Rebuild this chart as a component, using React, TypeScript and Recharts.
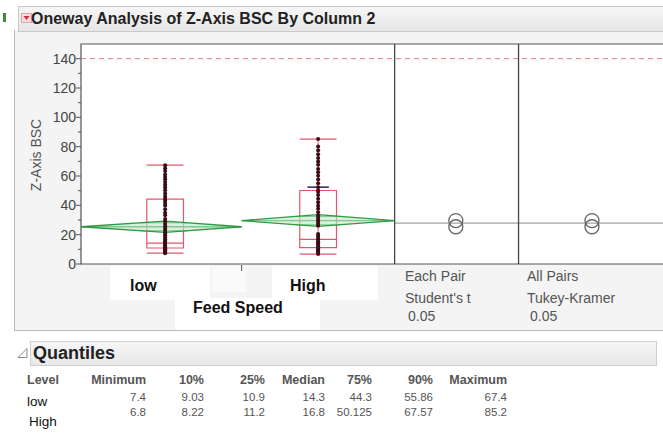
import React from "react";
import { ComposedChart, XAxis, YAxis, Scatter, ReferenceLine, ReferenceArea, CartesianGrid } from "recharts";

// groups of Feed Speed, positioned on a numeric x scale (1 = low, 2 = High)
const groups = ["low", "High"];
const groupPos = [1, 2];
const groupLeft = [0.45, 1.5];
const groupRight = [1.5, 2.5];

// quantiles
const minimum = [7.4, 6.8];
const p10 = [9.03, 8.22];
const q1 = [10.9, 11.2];
const median = [14.3, 16.8];
const q3 = [44.3, 50.125];
const p90 = [55.86, 67.57];
const maximum = [67.4, 85.2];

// means diamonds (mean and 95% CI)
const means = [25.4, 29.6];
const ciLow = [21.6, 25.6];
const ciHigh = [29.2, 33.6];
const sdUpper = [null, 52.4];
const grandMean = 27.9;
const specLimit = 140;

const lowPoints = [7.4, 7.9, 8.4, 9.0, 9.4, 9.9, 10.5, 10.9, 11.3, 11.8, 12.4, 13.0, 13.6, 14.3, 15.1, 15.8, 16.9, 18.2, 19.6, 21.0, 22.7, 24.1, 25.8, 27.3, 28.9, 30.6, 33.2, 35.0, 37.4, 39.9, 41.6, 43.2, 44.3, 46.1, 48.0, 50.3, 52.2, 54.0, 55.9, 57.8, 59.3, 61.0, 63.4, 65.2, 67.4];
const highPoints = [6.8, 7.5, 8.2, 9.1, 9.8, 10.6, 11.2, 12.0, 12.9, 13.8, 14.6, 15.5, 16.8, 17.9, 19.3, 20.5, 26.0, 27.4, 28.8, 30.1, 31.5, 33.0, 35.2, 37.6, 39.8, 42.1, 44.5, 47.0, 49.3, 50.1, 52.4, 55.0, 57.6, 60.2, 62.5, 64.8, 67.6, 69.9, 72.3, 74.8, 77.5, 80.1, 85.2];
const groupPoints = [lowPoints, highPoints];

const yTicks = [0, 10, 20, 30, 40, 50, 60, 70, 80, 90, 100, 110, 120, 130, 140];
const xTicks = [1.5];

// comparison circle panels
const panelEdges = [2.5, 3.31];
const panelCenters = [2.9, 3.79];
const panelTexts = [
  ["Each Pair", "Student's t", "0.05"],
  ["All Pairs", "Tukey-Kramer", "0.05"],
];

const qHeaders = ["Level", "Minimum", "10%", "25%", "Median", "75%", "90%", "Maximum"];
const qColumns = [minimum, p10, q1, median, q3, p90, maximum];

const RED = "#e2576f";
const GREEN = "#2e9a46";
const FONT = "'Liberation Sans', Arial, sans-serif";
const BOX_HALF = 0.12;
const COL_RIGHT = [146, 204, 265, 325, 372, 433, 507];

const YTick = (p: any) => {
  const v = p.payload.value;
  const major = v % 20 === 0;
  return (
    <g>
      <line x1={p.x - (major ? 5 : 3)} x2={p.x} y1={p.y} y2={p.y} stroke="#555" />
      {major && (
        <text x={p.x - 5} y={p.y} dy="0.35em" textAnchor="end" fontSize={14} fill="#444" fontFamily={FONT}>
          {v}
        </text>
      )}
    </g>
  );
};

const XTick = (p: any) => <line x1={p.x} x2={p.x} y1={p.y + 1} y2={p.y + 7} stroke="#555" />;

const Dot = (color: string, r: number) => (p: any) =>
  <circle cx={p.cx} cy={p.cy} r={r} fill={color} />;

const Ring = (p: any) => <circle cx={p.cx} cy={p.cy} r={7} fill="none" stroke="#666" strokeWidth={1.3} />;

const Diamond = (p: any) => (
  <polygon
    points={p.points.map((q: any) => `${q.x},${q.y}`).join(" ")}
    fill="#bfe6c4"
    fillOpacity={0.6}
    stroke={GREEN}
    strokeWidth={1.3}
  />
);

const abs = (x: number, y: number, extra: any = {}) =>
  ({ position: "absolute", left: x, top: y, whiteSpace: "nowrap", ...extra } as React.CSSProperties);

export default function App() {
  return (
    <div style={{ position: "absolute", left: 0, top: 0, width: 663, height: 435, overflow: "hidden", background: "#fff", fontFamily: FONT }}>
      {/* report outline */}
      <div style={abs(14, 30, { width: 660, height: 300, background: "#f4f4f4", borderLeft: "1px solid #bbb", borderBottom: "1px solid #bbb" })} />
      {/* title band */}
      <div style={abs(3, 13, { width: 3, height: 9, background: "#3c8c3c" })} />
      <div style={abs(18, 6, { width: 660, height: 24, background: "linear-gradient(#f6f6f6, #e6e6e6)", border: "1px solid #c8c8c8" })} />
      <svg style={abs(21, 13)} width={11} height={10}>
        <rect x={0.5} y={0.5} width={10} height={9} fill="#f7dde1" stroke="#d8a3ab" />
        <polygon points="2.5,3 8.5,3 5.5,7" fill="#d12c3a" />
      </svg>
      <div style={abs(31, 9, { fontSize: 16, fontWeight: "bold", color: "#222", lineHeight: "20px" })}>
        Oneway Analysis of Z-Axis BSC By Column 2
      </div>

      {/* label patches below the axis */}
      <div style={abs(110, 266, { width: 100, height: 34, background: "#fff" })} />
      <div style={abs(212, 266, { width: 34, height: 26, background: "#fafafa" })} />
      <div style={abs(272, 266, { width: 106, height: 34, background: "#fff" })} />
      <div style={abs(175, 298, { width: 145, height: 32, background: "#fff" })} />

      <div style={abs(0, 0)}>
        <ComposedChart width={680} height={300} margin={{ top: 44, right: 10, bottom: 26, left: 14 }}>
          <CartesianGrid horizontal={false} vertical={false} fill="#fff" />
          <XAxis
            type="number"
            dataKey="x"
            domain={[0.45, 4.3]}
            ticks={xTicks}
            allowDataOverflow
            height={10}
            axisLine={false}
            tickLine={false}
            tickSize={0}
            tickMargin={0}
            tick={XTick}
            interval={0}
          />
          <YAxis
            type="number"
            domain={[0, 150]}
            ticks={yTicks}
            allowDataOverflow
            width={67}
            axisLine={false}
            tickLine={false}
            tickSize={0}
            tickMargin={0}
            tick={YTick}
            interval={0}
          />

          <ReferenceLine y={specLimit} stroke="#e8798a" strokeDasharray="5 4" />
          <ReferenceLine
            segment={[{ x: panelEdges[0], y: grandMean }, { x: 4.3, y: grandMean }]}
            stroke="#8a8a8a"
          />

          {groups.map((g, i) => {
            const pos = groupPos[i];
            const l = groupLeft[i];
            const r = groupRight[i];
            const half = (ciHigh[i] - ciLow[i]) / 2;
            const ov = half * Math.SQRT1_2;
            const xl = pos - (pos - l) * (1 - Math.SQRT1_2);
            const xr = pos + (r - pos) * (1 - Math.SQRT1_2);
            return (
              <React.Fragment key={g}>
                <Scatter
                  data={[
                    { x: l, y: means[i] },
                    { x: pos, y: ciHigh[i] },
                    { x: r, y: means[i] },
                    { x: pos, y: ciLow[i] },
                  ]}
                  dataKey="y"
                  line={Diamond}
                  lineType="joint"
                  shape={() => <g />}
                  isAnimationActive={false}
                />
                <ReferenceLine segment={[{ x: l, y: means[i] }, { x: r, y: means[i] }]} stroke={GREEN} strokeWidth={1.3} />
                <ReferenceLine segment={[{ x: xl, y: means[i] + ov }, { x: xr, y: means[i] + ov }]} stroke={GREEN} />
                <ReferenceLine segment={[{ x: xl, y: means[i] - ov }, { x: xr, y: means[i] - ov }]} stroke={GREEN} />

                <ReferenceLine segment={[{ x: pos, y: minimum[i] }, { x: pos, y: maximum[i] }]} stroke={RED} />
                <ReferenceArea x1={pos - BOX_HALF} x2={pos + BOX_HALF} y1={q1[i]} y2={q3[i]} fill="none" stroke={RED} strokeWidth={1.2} />
                <ReferenceLine segment={[{ x: pos - BOX_HALF, y: median[i] }, { x: pos + BOX_HALF, y: median[i] }]} stroke={RED} strokeWidth={1.2} />
                <ReferenceLine segment={[{ x: pos - BOX_HALF, y: minimum[i] }, { x: pos + BOX_HALF, y: minimum[i] }]} stroke={RED} strokeWidth={1.2} />
                <ReferenceLine segment={[{ x: pos - BOX_HALF, y: maximum[i] }, { x: pos + BOX_HALF, y: maximum[i] }]} stroke={RED} strokeWidth={1.2} />

                <Scatter
                  data={groupPoints[i].map((v) => ({ x: pos, y: v }))}
                  dataKey="y"
                  shape={Dot("#3a0b14", 2)}
                  isAnimationActive={false}
                />
                {sdUpper[i] != null && (
                  <ReferenceLine
                    segment={[{ x: pos - 0.07, y: sdUpper[i] as number }, { x: pos + 0.07, y: sdUpper[i] as number }]}
                    stroke="#1d2b55"
                    strokeWidth={1.5}
                  />
                )}
              </React.Fragment>
            );
          })}

          <Scatter
            data={panelCenters.flatMap((c) => means.map((m) => ({ x: c, y: m })))}
            dataKey="y"
            shape={Ring}
            isAnimationActive={false}
          />

          {panelEdges.map((e) => (
            <ReferenceLine key={e} x={e} stroke="#444" strokeWidth={1.3} />
          ))}
          <ReferenceArea x1={0.45} x2={4.3} y1={0} y2={150} fill="none" stroke="#555" strokeWidth={1.2} />
        </ComposedChart>
      </div>

      {/* axis titles */}
      <div style={abs(36, 155, { transform: "translate(-50%, -50%) rotate(-90deg)", fontSize: 14, color: "#555" })}>
        Z-Axis BSC
      </div>
      <div style={abs(130, 277, { fontSize: 16, fontWeight: "bold", color: "#111", lineHeight: "18px" })}>{groups[0]}</div>
      <div style={abs(290, 277, { fontSize: 16, fontWeight: "bold", color: "#111", lineHeight: "18px" })}>{groups[1]}</div>
      <div style={abs(193, 299, { fontSize: 16, fontWeight: "bold", color: "#111", lineHeight: "18px" })}>Feed Speed</div>

      {panelTexts.map((lines, i) => (
        <div key={i} style={abs(i === 0 ? 405 : 527, 266, { fontSize: 14, color: "#555", lineHeight: "20px" })}>
          <div>{lines[0]}</div>
          <div style={{ marginTop: 2 }}>{lines[1]}</div>
          <div style={{ marginLeft: 3, marginTop: -2 }}>{lines[2]}</div>
        </div>
      ))}

      {/* Quantiles */}
      <div style={abs(30, 341, { width: 625, height: 23, background: "linear-gradient(#f6f6f6, #e8e8e8)", border: "1px solid #cfcfcf" })} />
      <svg style={abs(17, 347)} width={12} height={12}>
        <polygon points="10,1.5 10,10.5 1,10.5" fill="none" stroke="#888" />
      </svg>
      <div style={abs(33, 342, { fontSize: 18, fontWeight: "bold", color: "#222", lineHeight: "22px" })}>Quantiles</div>

      {qHeaders.map((h, j) =>
        j === 0 ? (
          <div key={h} style={abs(27, 372, { fontSize: 12.5, fontWeight: "bold", color: "#555", lineHeight: "16px" })}>{h}</div>
        ) : (
          <div key={h} style={abs(COL_RIGHT[j - 1] - 100, 372, { width: 100, textAlign: "right", fontSize: 12.5, fontWeight: "bold", color: "#555", lineHeight: "16px" })}>
            {h}
          </div>
        )
      )}
      {groups.map((g, i) => (
        <React.Fragment key={g}>
          <div style={abs(i === 0 ? 27 : 29, i === 0 ? 394 : 414, { fontSize: 13.5, color: "#111", lineHeight: "16px" })}>{g}</div>
          {qColumns.map((col, j) => (
            <div key={j} style={abs(COL_RIGHT[j] - 80, i === 0 ? 389 : 404, { width: 80, textAlign: "right", fontSize: 11.5, color: "#555", lineHeight: "16px" })}>
              {String(col[i])}
            </div>
          ))}
        </React.Fragment>
      ))}
    </div>
  );
}
